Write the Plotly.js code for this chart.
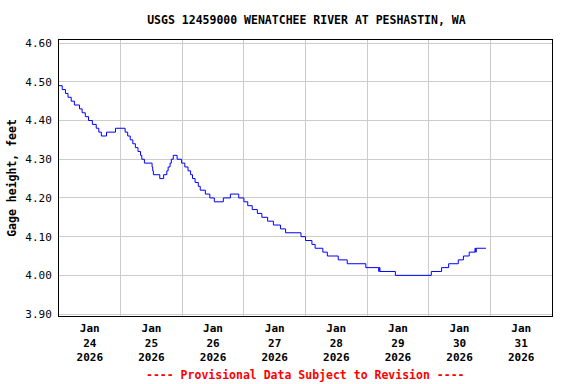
<!DOCTYPE html>
<html>
<head>
<meta charset="utf-8">
<script src="https://cdn.plot.ly/plotly-3.0.1.min.js"></script>
<style>html,body{margin:0;padding:0;background:#fff;}#chart{width:576px;height:384px;}</style>
</head>
<body>
<div id="chart"></div>
<script>
// Gage height readings (start time of each level), feet
const times = [
  "2026-01-24 00:00","2026-01-24 01:15","2026-01-24 02:30","2026-01-24 03:30","2026-01-24 04:45",
  "2026-01-24 06:00","2026-01-24 08:00","2026-01-24 09:00","2026-01-24 10:15","2026-01-24 11:30",
  "2026-01-24 13:00","2026-01-24 14:30","2026-01-24 15:30","2026-01-24 16:30","2026-01-24 18:30",
  "2026-01-24 22:00","2026-01-25 01:45","2026-01-25 02:45","2026-01-25 03:45","2026-01-25 04:45",
  "2026-01-25 05:45","2026-01-25 06:45","2026-01-25 07:45","2026-01-25 08:15","2026-01-25 09:15",
  "2026-01-25 12:15","2026-01-25 12:30","2026-01-25 12:45","2026-01-25 15:15","2026-01-25 16:45",
  "2026-01-25 18:00","2026-01-25 18:30","2026-01-25 19:15","2026-01-25 19:45","2026-01-25 20:30",
  "2026-01-25 22:00","2026-01-25 23:45","2026-01-26 01:00","2026-01-26 02:15","2026-01-26 03:15",
  "2026-01-26 04:00","2026-01-26 05:00","2026-01-26 06:15","2026-01-26 07:00","2026-01-26 09:00",
  "2026-01-26 10:45","2026-01-26 12:30","2026-01-26 16:00","2026-01-26 18:45","2026-01-26 22:00",
  "2026-01-27 00:00","2026-01-27 01:30","2026-01-27 03:15","2026-01-27 05:15","2026-01-27 07:00",
  "2026-01-27 09:15","2026-01-27 11:30","2026-01-27 14:15","2026-01-27 16:15","2026-01-27 22:15",
  "2026-01-28 00:00","2026-01-28 02:30","2026-01-28 03:45","2026-01-28 06:45","2026-01-28 08:30",
  "2026-01-28 12:45","2026-01-28 16:15","2026-01-28 23:30","2026-01-29 04:30","2026-01-29 04:45",
  "2026-01-29 05:00","2026-01-29 11:00","2026-01-30 01:00","2026-01-30 05:00","2026-01-30 07:45",
  "2026-01-30 11:30","2026-01-30 13:30","2026-01-30 15:45","2026-01-30 18:00","2026-01-30 18:15",
  "2026-01-30 18:30","2026-01-30 22:15"
];
const gageHeight = [
  4.49,4.48,4.47,4.46,4.45,
  4.44,4.43,4.42,4.41,4.40,
  4.39,4.38,4.37,4.36,4.37,
  4.38,4.37,4.36,4.35,4.34,
  4.33,4.32,4.31,4.30,4.29,
  4.28,4.27,4.26,4.25,4.26,
  4.27,4.28,4.29,4.30,4.31,
  4.30,4.29,4.28,4.27,4.26,
  4.25,4.24,4.23,4.22,4.21,
  4.20,4.19,4.20,4.21,4.20,
  4.19,4.18,4.17,4.16,4.15,
  4.14,4.13,4.12,4.11,4.10,
  4.09,4.08,4.07,4.06,4.05,
  4.04,4.03,4.02,4.01,4.02,
  4.01,4.00,4.01,4.02,4.03,
  4.04,4.05,4.06,4.07,4.06,
  4.07,4.07
];
const chartTitle = "USGS 12459000 WENATCHEE RIVER AT PESHASTIN, WA";
const yTitle = "Gage height, feet";
const footer = "---- Provisional Data Subject to Revision ----";
const xRange = ["2026-01-24 00:00", "2026-02-01 00:00"];
const yRange = [3.895, 4.608];

const FONT = "DejaVu Sans Mono, Liberation Mono, monospace";

const trace = {
  x: times, y: gageHeight, type: "scatter", mode: "lines",
  line: {color: "#0000ff", width: 1, shape: "hv"},
  hoverinfo: "skip"
};

const layout = {
  width: 576, height: 384,
  margin: {l: 59, r: 24, t: 40, b: 68},
  paper_bgcolor: "#ffffff", plot_bgcolor: "#ffffff",
  showlegend: false,
  font: {family: FONT, size: 11, color: "#000"},
  title: {text: "<b>" + chartTitle + "</b>", x: 0.532, xanchor: "center", y: 0.948, yanchor: "middle",
          font: {family: FONT, size: 11.5, color: "#000"}},
  xaxis: {
    type: "date", range: xRange, dtick: 86400000, tick0: "2026-01-24",
    tickformat: "<b>%b</b><br><b>%d</b><br><b>%Y</b>", ticklabelmode: "period",
    ticks: "", ticklabelstandoff: 2, showgrid: true, gridcolor: "#cccccc", gridwidth: 1,
    showline: true, linecolor: "#000", linewidth: 1, mirror: true, zeroline: false,
    tickfont: {family: FONT, size: 11, color: "#000"}
  },
  yaxis: {
    range: yRange, tick0: 3.9, dtick: 0.1, tickformat: ".2f",
    ticks: "", ticklabelstandoff: 4, showgrid: true, gridcolor: "#cccccc", gridwidth: 1,
    showline: true, linecolor: "#000", linewidth: 1, mirror: true, zeroline: false,
    tickfont: {family: FONT, size: 11, color: "#000"},
    title: {text: "<b>" + yTitle + "</b>", standoff: 6, font: {family: FONT, size: 11.5, color: "#000"}}
  },
  annotations: [{
    text: "<b>" + footer + "</b>", xref: "paper", yref: "paper", x: 0.5, y: -0.215,
    xanchor: "center", yanchor: "middle", showarrow: false,
    font: {family: FONT, size: 11.5, color: "#ff0000"}
  }]
};

Plotly.newPlot("chart", [trace], layout, {staticPlot: true, displayModeBar: false});
</script>
</body>
</html>
